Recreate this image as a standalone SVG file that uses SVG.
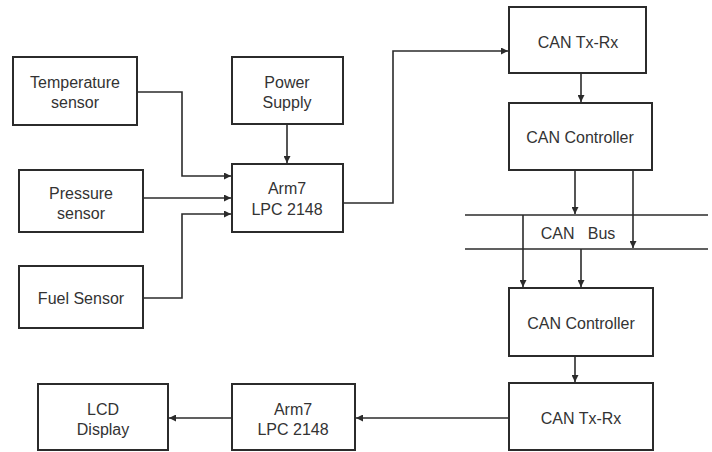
<svg xmlns="http://www.w3.org/2000/svg" width="712" height="452" viewBox="0 0 712 452">
<style>
.box{fill:#fff;stroke:#2b2b2b;stroke-width:2}
.t{font-family:"Liberation Sans",Arial,sans-serif;font-size:16px;fill:#333;text-anchor:middle;dominant-baseline:central}
.c{fill:none;stroke:#2b2b2b;stroke-width:1.6}
</style>
<defs>
<marker id="ah" viewBox="0 0 10 10" refX="10" refY="5" markerWidth="7" markerHeight="7" markerUnits="userSpaceOnUse" orient="auto">
<path d="M0,0 L10,5 L0,10 z" fill="#2b2b2b"/>
</marker>
</defs>
<rect width="712" height="452" fill="#fff"/>
<g id="temp"><rect class="box" x="13" y="57" width="124" height="68"/><text class="t" x="75" y="82">Temperature</text><text class="t" x="75" y="102">sensor</text></g>
<g id="power"><rect class="box" x="232" y="57" width="111" height="67"/><text class="t" x="287" y="82">Power</text><text class="t" x="287" y="102">Supply</text></g>
<g id="pressure"><rect class="box" x="19" y="170" width="124" height="62"/><text class="t" x="81" y="193">Pressure</text><text class="t" x="81" y="213">sensor</text></g>
<g id="arm7a"><rect class="box" x="232" y="164" width="111" height="68"/><text class="t" x="287" y="188">Arm7</text><text class="t" x="287" y="209">LPC 2148</text></g>
<g id="fuel"><rect class="box" x="19" y="266" width="124" height="62"/><text class="t" x="81" y="298">Fuel Sensor</text></g>
<g id="txrx1"><rect class="box" x="509" y="7" width="137" height="66"/><text class="t" x="578" y="42">CAN Tx-Rx</text></g>
<g id="ctrl1"><rect class="box" x="509" y="103" width="143" height="67"/><text class="t" x="580" y="137">CAN Controller</text></g>
<g id="bus"><line class="c" x1="465" y1="215" x2="708" y2="215"/><line class="c" x1="465" y1="249" x2="708" y2="249"/><text class="t" x="578" y="233" xml:space="preserve" style="white-space:pre">CAN   Bus</text></g>
<g id="ctrl2"><rect class="box" x="509" y="288" width="144" height="68"/><text class="t" x="581" y="323">CAN Controller</text></g>
<g id="txrx2"><rect class="box" x="509" y="383" width="144" height="67"/><text class="t" x="581" y="418">CAN Tx-Rx</text></g>
<g id="arm7b"><rect class="box" x="232" y="384" width="123" height="66"/><text class="t" x="293" y="409">Arm7</text><text class="t" x="293" y="429">LPC 2148</text></g>
<g id="lcd"><rect class="box" x="38" y="384" width="130" height="66"/><text class="t" x="103" y="409">LCD</text><text class="t" x="103" y="429">Display</text></g>
<g id="connectors">
<path class="c" d="M137,92 H182 V176 H231" marker-end="url(#ah)"/>
<path class="c" d="M143,198 H231" marker-end="url(#ah)"/>
<path class="c" d="M143,298 H182 V214 H231" marker-end="url(#ah)"/>
<path class="c" d="M287,124 V163" marker-end="url(#ah)"/>
<path class="c" d="M343,203 H393 V51 H508" marker-end="url(#ah)"/>
<path class="c" d="M581,73 V102" marker-end="url(#ah)"/>
<path class="c" d="M575,170 V214" marker-end="url(#ah)"/>
<path class="c" d="M633,170 V248" marker-end="url(#ah)"/>
<path class="c" d="M523,215 V287" marker-end="url(#ah)"/>
<path class="c" d="M581,249 V287" marker-end="url(#ah)"/>
<path class="c" d="M575,356 V382" marker-end="url(#ah)"/>
<path class="c" d="M509,418 H356" marker-end="url(#ah)"/>
<path class="c" d="M232,418 H169" marker-end="url(#ah)"/>
</g>
</svg>
